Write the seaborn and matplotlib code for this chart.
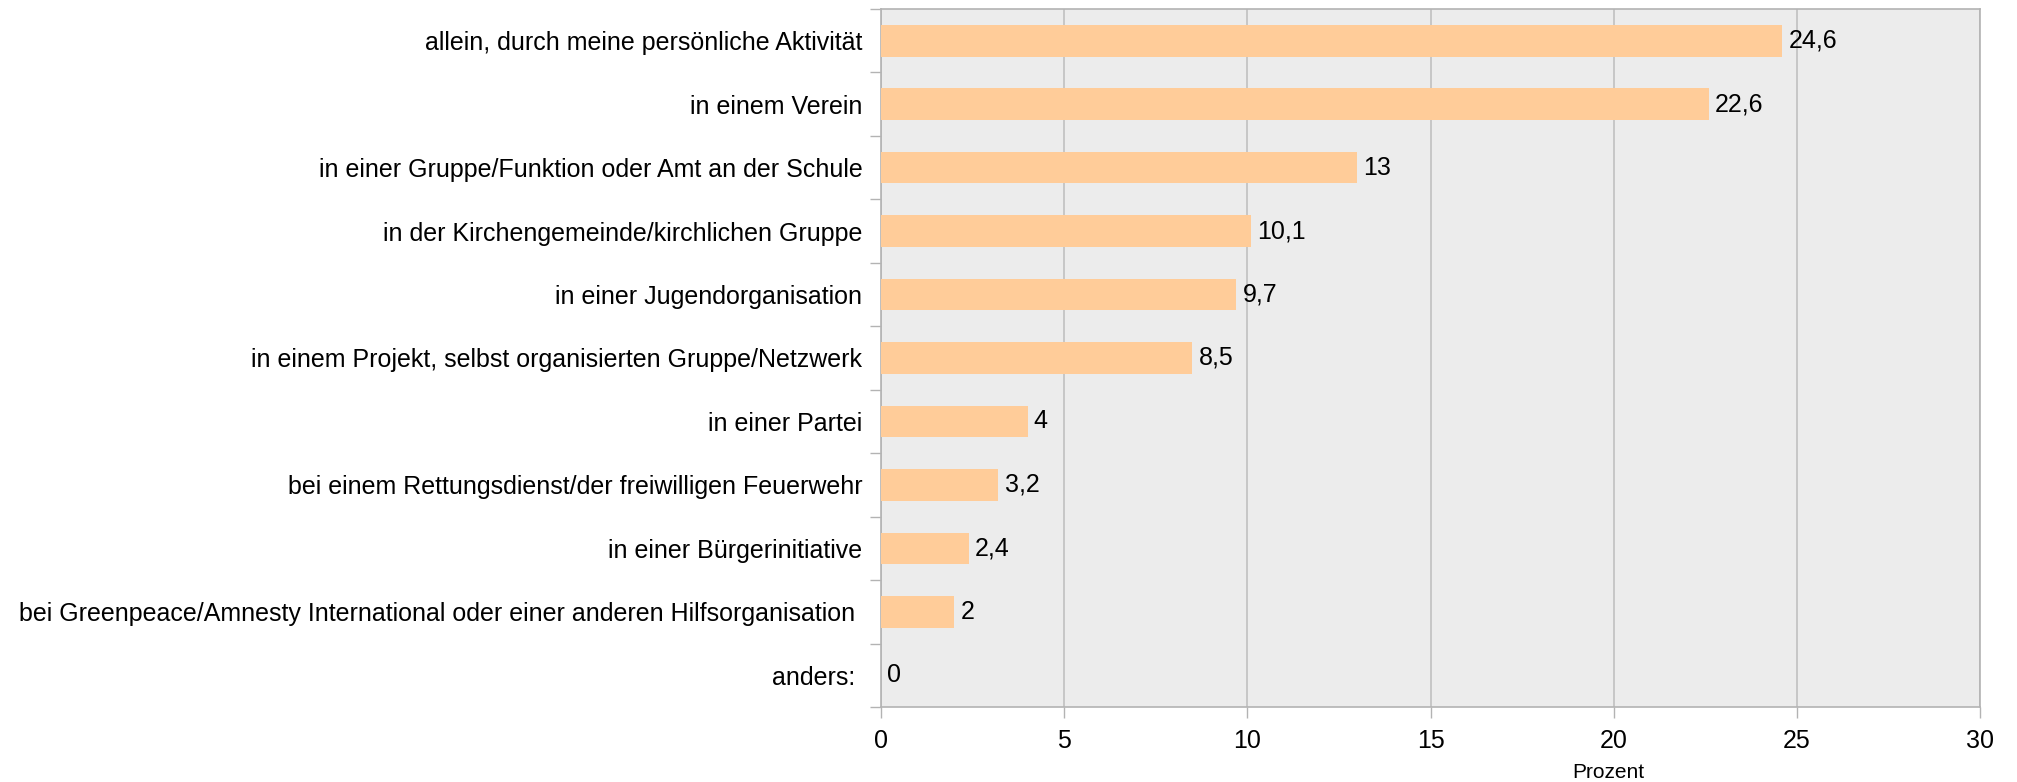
import numpy as np
import pandas as pd
import matplotlib
matplotlib.use("Agg")
import matplotlib.pyplot as plt
import seaborn as sns

# data
categories = [
    "allein, durch meine persönliche Aktivität",
    "in einem Verein",
    "in einer Gruppe/Funktion oder Amt an der Schule",
    "in der Kirchengemeinde/kirchlichen Gruppe",
    "in einer Jugendorganisation",
    "in einem Projekt, selbst organisierten Gruppe/Netzwerk",
    "in einer Partei",
    "bei einem Rettungsdienst/der freiwilligen Feuerwehr",
    "in einer Bürgerinitiative",
    "bei Greenpeace/Amnesty International oder einer anderen Hilfsorganisation ",
    "anders: ",
]
values = [24.6, 22.6, 13, 10.1, 9.7, 8.5, 4, 3.2, 2.4, 2, 0]
x_ticks = [0, 5, 10, 15, 20, 25, 30]

df = pd.DataFrame({"Kategorie": categories, "Prozent": values})

sns.set_style("white")
plt.rcParams["font.family"] = ["Liberation Sans", "DejaVu Sans"]
plt.rcParams["text.color"] = "black"
plt.rcParams["xtick.labelcolor"] = "black"
plt.rcParams["ytick.labelcolor"] = "black"

fig = plt.figure(figsize=(20.17, 7.82), dpi=100)
ax = fig.add_axes([0.4368, 0.0959, 0.5449, 0.8926])
ax.set_facecolor("#ececec")

sns.barplot(data=df, x="Prozent", y="Kategorie", orient="h",
            color="#ffcc99", saturation=1, width=0.5, ax=ax,
            linewidth=0, edgecolor="none", zorder=3)

def fmt(v):
    s = f"{v:g}"
    return s.replace(".", ",")

ax.bar_label(ax.containers[0], labels=[fmt(v) for v in values],
             padding=4.5, fontsize=18, color="black", zorder=4)

ax.set_xlim(0, 30)
ax.set_ylim(len(categories) - 0.5, -0.5)
ax.set_xticks(x_ticks)
ax.set_xticklabels([str(t) for t in x_ticks], fontsize=18)
ax.xaxis.grid(True, color="#c0c0c0", linewidth=1.2, zorder=0)
ax.set_axisbelow(True)

# category ticks: labels only, separators as minor ticks
ax.tick_params(axis="y", which="major", left=True, length=0, pad=13.5,
               labelsize=18, labelcolor="black")
ax.set_yticks(np.arange(-0.5, len(categories), 1), minor=True)
ax.tick_params(axis="y", which="minor", left=True, length=8, width=1.0,
               color="#b3b3b3")
ax.tick_params(axis="x", which="major", bottom=True, length=8, width=1.0,
               color="#b3b3b3", pad=8, labelcolor="black")

for sp in ax.spines.values():
    sp.set_color("#b3b3b3")
    sp.set_linewidth(1.2)

ax.set_ylabel("")
ax.set_xlabel("Prozent", fontsize=15, color="black")
ax.xaxis.set_label_coords(0.662, -0.08)

fig.savefig("out.png", dpi=100)
